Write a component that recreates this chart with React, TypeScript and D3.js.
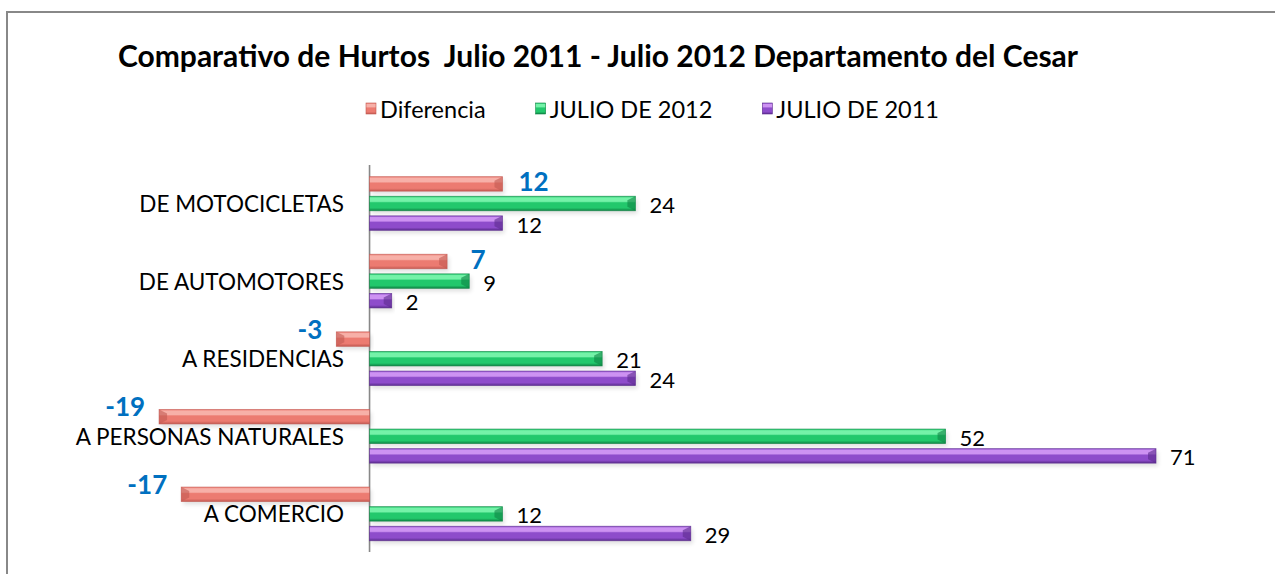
import React from "react";
import * as d3 from "d3";

const categories = ["DE MOTOCICLETAS", "DE AUTOMOTORES", "A RESIDENCIAS", "A PERSONAS NATURALES", "A COMERCIO"];
const seriesNames = ["Diferencia", "JULIO DE 2012", "JULIO DE 2011"];
const diferencia = [12, 7, -3, -19, -17];
const julio2012 = [24, 9, 21, 52, 12];
const julio2011 = [12, 2, 24, 71, 29];
const title = "Comparativo de Hurtos  Julio 2011 - Julio 2012 Departamento del Cesar";

const palettes = [
  { light: "#f7b0a8", main: "#ec7b71", dark: "#c35a52", id: "r" },
  { light: "#74f2a8", main: "#22c86c", dark: "#0f8444", id: "g" },
  { light: "#cd92f2", main: "#8e4ccb", dark: "#5b2c8e", id: "p" },
];

const FONT = "Lato, 'Open Sans', sans-serif";

function measure(text: string, font: string) {
  const c = document.createElement("canvas");
  const ctx = c.getContext("2d")!;
  ctx.font = font;
  return ctx.measureText(text).width;
}

export default function App() {
  const W = 1275, H = 574;
  const x = d3.scaleLinear().domain([-20, 80]).range([148, 148 + 100 * 11.077]);
  const y = d3.scaleBand<string>().domain(categories).range([164.7, 552.7]);
  const ys = d3.scaleBand<string>().domain(seriesNames).range([0, y.bandwidth()]).paddingInner(0.26).paddingOuter(0.61);
  const values = [diferencia, julio2012, julio2011];
  const x0 = x(0);

  const legendFont = `23.5px Lato`;
  let lx = 366;
  const legendItems = seriesNames.map((s, i) => {
    const item = { s, i, x: lx };
    lx += 14 + measure(s, legendFont) + 50;
    return item;
  });

  const bh = ys.bandwidth();

  const bar = (v: number, cat: string, si: number, key: string) => {
    const p = palettes[si];
    const yTop = (y(cat) as number) + (ys(seriesNames[si]) as number);
    const xa = Math.min(x(0), x(v));
    const xb = Math.max(x(0), x(v));
    const w = xb - xa;
    const b = Math.min(4, w / 2);
    const endX = v >= 0 ? xb : xa;
    const dir = v >= 0 ? -1 : 1;
    return (
      <g key={key}>
        <rect x={xa + 2} y={yTop + 3} width={w} height={bh} fill="#000" opacity={0.12} filter="url(#blur)" />
        <rect x={xa} y={yTop} width={w} height={bh} fill={`url(#grad-${p.id})`} />
        <polygon
          points={`${endX},${yTop} ${endX + dir * b * 2},${yTop + b} ${endX + dir * b * 2},${yTop + bh - b} ${endX},${yTop + bh}`}
          fill={p.dark}
          opacity={0.6}
        />
        <rect x={xa} y={yTop} width={w} height={bh} fill="none" stroke={p.dark} strokeWidth={0.8} opacity={0.7} />
      </g>
    );
  };

  return (
    <svg width={W} height={H} style={{ position: "absolute", left: 0, top: 0, background: "#fff" }} fontFamily={FONT}>
      <defs>
        {palettes.map((p) => (
          <linearGradient key={p.id} id={`grad-${p.id}`} x1="0" y1="0" x2="0" y2="1">
            <stop offset="0" stopColor={p.main} />
            <stop offset="0.12" stopColor={p.light} />
            <stop offset="0.35" stopColor={p.light} />
            <stop offset="0.45" stopColor={p.main} />
            <stop offset="0.8" stopColor={p.main} />
            <stop offset="1" stopColor={p.dark} />
          </linearGradient>
        ))}
        <filter id="blur" x="-5%" y="-50%" width="110%" height="200%">
          <feGaussianBlur stdDeviation="2" />
        </filter>
      </defs>
      <rect x={7} y={12} width={1320} height={620} fill="#fff" stroke="#888" strokeWidth={2} />
      <text x={598} y={67} textAnchor="middle" fontWeight="bold" fontSize={30} fill="#000" style={{ whiteSpace: "pre" }}>
        {title}
      </text>
      {legendItems.map((it) => {
        const p = palettes[it.i];
        return (
          <g key={it.s}>
            <rect x={it.x} y={103} width={10} height={11} fill={`url(#grad-${p.id})`} stroke={p.dark} strokeWidth={0.6} />
            <text x={it.x + 14} y={109} dominantBaseline="central" fontSize={23.5} fill="#000">
              {it.s}
            </text>
          </g>
        );
      })}
      <line x1={x0} x2={x0} y1={165} y2={552} stroke="#888" strokeWidth={1.6} />
      {categories.map((c, ci) =>
        values.map((vals, si) => bar(vals[ci], c, si, `${ci}-${si}`))
      )}
      {categories.map((c) => (
        <text key={c} x={344} y={(y(c) as number) + y.bandwidth() / 2} textAnchor="end" dominantBaseline="central" fontSize={22.5} fill="#000">
          {c}
        </text>
      ))}
      {categories.map((c, ci) =>
        [1, 2].map((si) => {
          const v = values[si][ci];
          const yTop = (y(c) as number) + (ys(seriesNames[si]) as number);
          return (
            <text key={`l${ci}${si}`} x={x(v) + 14} y={yTop + bh / 2 + 1} dominantBaseline="central" fontSize={22} fill="#000">
              {v}
            </text>
          );
        })
      )}
      {categories.map((c, ci) => {
        const v = diferencia[ci];
        const yTop = (y(c) as number) + (ys(seriesNames[0]) as number);
        const pos = v >= 0;
        return (
          <text
            key={`d${ci}`}
            x={pos ? x(v) + 31 : x(v) - 14}
            y={pos ? yTop + bh : yTop + 7}
            textAnchor={pos ? "middle" : "end"}
            fontWeight="bold"
            fontSize={26}
            fill="#0070c0"
          >
            {v}
          </text>
        );
      })}
    </svg>
  );
}
